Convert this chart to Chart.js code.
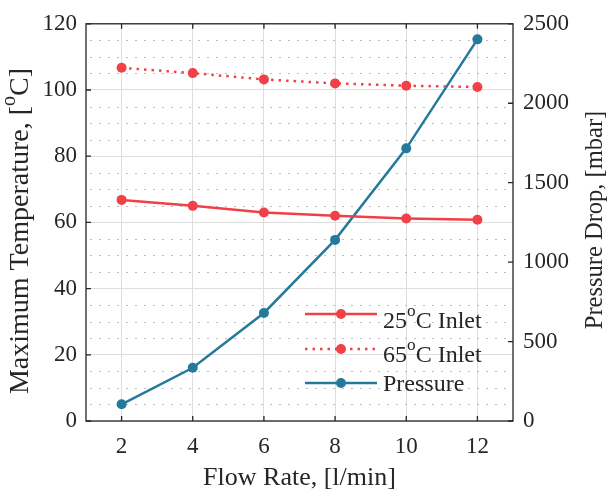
<!DOCTYPE html>
<html>
<head>
<meta charset="utf-8">
<script src="https://cdn.jsdelivr.net/npm/chart.js@4.4.1/dist/chart.umd.min.js"></script>
<style>
  body { margin: 0; background: #fff; }
  #wrap { width: 608px; height: 493px; }
</style>
</head>
<body>
<div id="wrap"><canvas id="myChart"></canvas></div>
<script>
// data
const flowRate = [2, 4, 6, 8, 10, 12];
const temp25 = [66.8, 65.0, 63.0, 62.0, 61.2, 60.8];
const temp65 = [106.7, 105.1, 103.2, 102.0, 101.3, 100.9];
const pressure = [105, 335, 680, 1140, 1716, 2402];

const xTicks = [2, 4, 6, 8, 10, 12];
const tempTicks = [0, 20, 40, 60, 80, 100, 120];
const pressTicks = [0, 500, 1000, 1500, 2000, 2500];

const RED = 'rgb(242,64,72)';
const BLUE = 'rgb(37,122,155)';
const INK = '#262626';
const SERIF = '"Liberation Serif", "Times New Roman", serif';

function pts(ys) {
  return flowRate.map((x, i) => ({ x: x, y: ys[i] }));
}

// draws text with a raised "o" where the part says sup
function richWidth(ctx, parts, size) {
  let w = 0;
  parts.forEach(p => {
    ctx.font = (p.sup ? size * 0.72 : size) + 'px ' + SERIF;
    w += ctx.measureText(p.t).width;
  });
  return w;
}
function drawRich(ctx, parts, x, y, size) {
  let cx = x;
  parts.forEach(p => {
    ctx.font = (p.sup ? size * 0.72 : size) + 'px ' + SERIF;
    ctx.fillText(p.t, cx, p.sup ? y - size * 0.48 : y);
    cx += ctx.measureText(p.t).width;
  });
}

const decor = {
  id: 'decor',
  beforeDatasetsDraw(chart) {
    // minor dotted lines every 5 degrees
    const ctx = chart.ctx, a = chart.chartArea, ys = chart.scales.y;
    ctx.save();
    ctx.strokeStyle = '#bdbdbd';
    ctx.lineWidth = 1;
    ctx.setLineDash([2, 7]);
    for (let v = 5; v < 120; v += 5) {
      if (v % 20 === 0) continue;
      const py = Math.round(ys.getPixelForValue(v)) + 0.5;
      ctx.beginPath();
      ctx.moveTo(a.left + 4, py);
      ctx.lineTo(a.right, py);
      ctx.stroke();
    }
    ctx.restore();
  },
  afterDatasetsDraw(chart) {
    const ctx = chart.ctx, a = chart.chartArea;
    const xs = chart.scales.x, ys = chart.scales.y, y1 = chart.scales.y1;
    ctx.save();
    ctx.strokeStyle = INK;
    ctx.lineWidth = 1.3;
    ctx.strokeRect(a.left, a.top, a.right - a.left, a.bottom - a.top);
    ctx.beginPath();
    xTicks.forEach(v => {
      const px = xs.getPixelForValue(v);
      ctx.moveTo(px, a.bottom); ctx.lineTo(px, a.bottom - 5);
      ctx.moveTo(px, a.top); ctx.lineTo(px, a.top + 5);
    });
    tempTicks.forEach(v => {
      const py = ys.getPixelForValue(v);
      ctx.moveTo(a.left, py); ctx.lineTo(a.left + 5, py);
    });
    pressTicks.forEach(v => {
      const py = y1.getPixelForValue(v);
      ctx.moveTo(a.right, py); ctx.lineTo(a.right - 5, py);
    });
    ctx.stroke();

    // legend
    const items = [
      { color: RED, dash: [], parts: [{ t: '25' }, { t: 'o', sup: true }, { t: 'C Inlet' }], ly: 314, ty: 328 },
      { color: RED, dash: [2.5, 5], parts: [{ t: '65' }, { t: 'o', sup: true }, { t: 'C Inlet' }], ly: 349, ty: 362 },
      { color: BLUE, dash: [], parts: [{ t: 'Pressure' }], ly: 383, ty: 391 }
    ];
    items.forEach(it => {
      ctx.strokeStyle = it.color;
      ctx.lineWidth = 2.5;
      ctx.setLineDash(it.dash);
      ctx.beginPath();
      ctx.moveTo(305, it.ly); ctx.lineTo(377, it.ly);
      ctx.stroke();
      ctx.setLineDash([]);
      ctx.fillStyle = it.color;
      ctx.beginPath();
      ctx.arc(341, it.ly, 5, 0, Math.PI * 2);
      ctx.fill();
      ctx.fillStyle = INK;
      ctx.textBaseline = 'alphabetic';
      ctx.textAlign = 'left';
      drawRich(ctx, it.parts, 383, it.ty, 24);
    });

    // axis titles
    ctx.fillStyle = INK;
    ctx.textAlign = 'left';
    ctx.textBaseline = 'alphabetic';
    const xt = [{ t: 'Flow Rate, [l/min]' }];
    drawRich(ctx, xt, (a.left + a.right) / 2 - richWidth(ctx, xt, 26) / 2, 485, 26);

    const lt = [{ t: 'Maximum Temperature, [' }, { t: 'o', sup: true }, { t: 'C]' }];
    ctx.save();
    ctx.translate(28, 231);
    ctx.rotate(-Math.PI / 2);
    drawRich(ctx, lt, -richWidth(ctx, lt, 28) / 2, 0, 28);
    ctx.restore();

    const rt = [{ t: 'Pressure Drop, [mbar]' }];
    ctx.save();
    ctx.translate(602, 220);
    ctx.rotate(-Math.PI / 2);
    drawRich(ctx, rt, -richWidth(ctx, rt, 24.5) / 2, 0, 24.5);
    ctx.restore();
    ctx.restore();
  }
};

const ctx = document.getElementById('myChart');

new Chart(ctx, {
  type: 'line',
  data: {
    datasets: [
      {
        label: '25°C Inlet',
        data: pts(temp25),
        yAxisID: 'y',
        borderColor: RED,
        backgroundColor: RED,
        borderWidth: 2.5,
        pointRadius: 5,
        pointBorderWidth: 0,
        pointHoverRadius: 5
      },
      {
        label: '65°C Inlet',
        data: pts(temp65),
        yAxisID: 'y',
        borderColor: RED,
        backgroundColor: RED,
        borderWidth: 2.5,
        borderDash: [2.5, 5],
        pointRadius: 5,
        pointBorderWidth: 0,
        pointHoverRadius: 5
      },
      {
        label: 'Pressure',
        data: pts(pressure),
        yAxisID: 'y1',
        borderColor: BLUE,
        backgroundColor: BLUE,
        borderWidth: 2.5,
        pointRadius: 5,
        pointBorderWidth: 0,
        pointHoverRadius: 5
      }
    ]
  },
  options: {
    responsive: true,
    maintainAspectRatio: false,
    animation: false,
    layout: { padding: { top: 20, left: 0, right: 0, bottom: 0 } },
    plugins: {
      legend: { display: false },
      tooltip: { enabled: false }
    },
    scales: {
      x: {
        type: 'linear',
        position: 'bottom',
        min: 1,
        max: 13,
        afterBuildTicks: (s) => { s.ticks = xTicks.map(v => ({ value: v })); },
        afterFit: (s) => { s.height = 72; },
        grid: { color: '#dedede', lineWidth: 1, drawTicks: false },
        border: { display: false },
        ticks: { color: INK, padding: 12, font: { family: SERIF, size: 23 } }
      },
      y: {
        position: 'left',
        min: 0,
        max: 120,
        afterBuildTicks: (s) => { s.ticks = tempTicks.map(v => ({ value: v })); },
        afterFit: (s) => { s.width = 86; },
        grid: { color: '#dedede', lineWidth: 1, drawTicks: false },
        border: { display: false },
        ticks: { color: INK, padding: 9, font: { family: SERIF, size: 23 } }
      },
      y1: {
        position: 'right',
        min: 0,
        max: 2500,
        afterBuildTicks: (s) => { s.ticks = pressTicks.map(v => ({ value: v })); },
        afterFit: (s) => { s.width = 95; },
        grid: { drawOnChartArea: false, drawTicks: false },
        border: { display: false },
        ticks: {
          color: INK, padding: 10, font: { family: SERIF, size: 23 },
          callback: (v) => String(v)
        }
      }
    }
  },
  plugins: [decor]
});
</script>
</body>
</html>
